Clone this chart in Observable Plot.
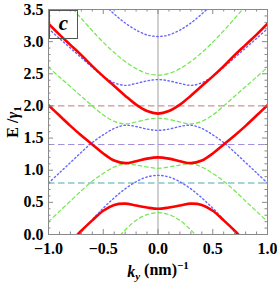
<!DOCTYPE html>
<html><head><meta charset="utf-8">
<script src="https://cdn.jsdelivr.net/npm/d3@7"></script>
<script src="https://cdn.jsdelivr.net/npm/@observablehq/plot@0.6"></script>
<style>body{margin:0;background:#fff}</style>
</head><body><div id="chart"></div>
<script>
const k = [-1,-0.9,-0.8,-0.7,-0.6,-0.5,-0.4,-0.3,-0.2,-0.1,0,0.1,0.2,0.3,0.4,0.5,0.6,0.7,0.8,0.9,1];
const red1 = [3.28,3.11,2.95,2.79,2.62,2.46,2.31,2.16,2.02,1.92,1.88,1.92,2.02,2.16,2.31,2.46,2.62,2.79,2.95,3.11,3.28];
const red2 = [2.01,1.85,1.69,1.54,1.40,1.26,1.15,1.11,1.14,1.18,1.20,1.18,1.14,1.11,1.15,1.26,1.40,1.54,1.69,1.85,2.01];
const red3 = [-0.48,-0.30,-0.12,0.06,0.22,0.37,0.46,0.48,0.45,0.42,0.40,0.42,0.45,0.48,0.46,0.37,0.22,0.06,-0.12,-0.30,-0.48];
const green1 = [3.98,3.77,3.56,3.36,3.17,2.99,2.83,2.69,2.58,2.505,2.48,2.505,2.58,2.69,2.83,2.99,3.17,3.36,3.56,3.77,3.98];
const green2 = [2.60,2.45,2.30,2.15,2.00,1.86,1.76,1.72,1.75,1.79,1.81,1.79,1.75,1.72,1.76,1.86,2.00,2.15,2.30,2.45,2.60];
const green3 = [0.20,0.36,0.52,0.68,0.83,0.95,1.05,1.10,1.08,1.05,1.03,1.05,1.08,1.10,1.05,0.95,0.83,0.68,0.52,0.36,0.20];
const green4 = [-1.32,-1.12,-0.92,-0.72,-0.52,-0.32,-0.12,0.07,0.22,0.31,0.34,0.31,0.22,0.07,-0.12,-0.32,-0.52,-0.72,-0.92,-1.12,-1.32];
const blue1 = [4.58,4.37,4.16,3.96,3.77,3.59,3.43,3.29,3.18,3.105,3.08,3.105,3.18,3.29,3.43,3.59,3.77,3.96,4.16,4.37,4.58];
const blue2 = [3.20,3.05,2.90,2.75,2.60,2.46,2.36,2.32,2.35,2.39,2.41,2.39,2.35,2.32,2.36,2.46,2.60,2.75,2.90,3.05,3.20];
const blue3 = [0.80,0.96,1.12,1.28,1.43,1.55,1.65,1.70,1.68,1.64,1.62,1.64,1.68,1.70,1.65,1.55,1.43,1.28,1.12,0.96,0.80];
const blue4 = [-0.56,-0.36,-0.16,0.04,0.23,0.41,0.57,0.71,0.82,0.895,0.92,0.895,0.82,0.71,0.57,0.41,0.23,0.04,-0.16,-0.36,-0.56];
const levels = [2.0, 1.4, 0.8];
const levelColors = ["#c99797", "#a391dc", "#a6d4d4"];
const levelWidths = [1.2, 1.2, 2];
const xTicks = [-1, -0.5, 0, 0.5, 1];
const xTickLabels = ["\u22121.0", "\u22120.5", "0.0", "0.5", "1.0"];
const yTicks = [0, 0.5, 1, 1.5, 2, 2.5, 3, 3.5];
const yTickLabels = ["0.0", "0.5", "1.0", "1.5", "2.0", "2.5", "3.0", "3.5"];
const panelLabel = "c";

const W = 277, H = 283, mL = 48, mR = 10, mT = 9, mB = 49;
const fw = W - mL - mR, fh = H - mT - mB;
const font = "'Liberation Serif','Times New Roman',serif";
const rows = vals => k.map((x, i) => ({k: x, E: vals[i]}));
const xMinor = d3.range(-10, 11).map(i => i / 10).filter(v => !xTicks.includes(v));
const yMinor = d3.range(0, 36).map(i => i / 10).filter(v => !yTicks.some(t => Math.abs(t - v) < 1e-9));
const gray = "#8a8a8a";
const line = (vals, o) => Plot.line(rows(vals), {x: "k", y: "E", curve: "catmull-rom", clip: true, ...o});
const greenStyle = {stroke: "#6fe84c", strokeWidth: 1.2, strokeDasharray: "3.5,3"};
const blueStyle = {stroke: "#6767ff", strokeWidth: 1.4, strokeDasharray: "1.4,2.6"};
const redStyle = {stroke: "#ff0000", strokeWidth: 2.6};
const txt = {fontWeight: "bold", fontFamily: font, fill: "#000", textAnchor: "middle", lineAnchor: "middle"};

const svg = Plot.plot({
  width: W, height: H, marginLeft: mL, marginRight: mR, marginTop: mT, marginBottom: mB,
  style: {background: "#fff", fontFamily: font},
  x: {domain: [-1, 1], axis: null},
  y: {domain: [0, 3.5], axis: null},
  marks: [
    Plot.ruleX([0], {stroke: "#cbcbcb", strokeWidth: 1.8}),
    Plot.ruleY(levels, {y: d => d, stroke: (d, i) => levelColors[i], strokeWidth: (d, i) => levelWidths[i], strokeDasharray: "6.5,3.5"}),
    line(green1, greenStyle), line(green2, greenStyle), line(green3, greenStyle), line(green4, greenStyle),
    line(blue1, blueStyle), line(blue2, blueStyle), line(blue3, blueStyle), line(blue4, blueStyle),
    line(red1, redStyle), line(red2, redStyle), line(red3, redStyle),
    // ticks inside the frame
    Plot.tickX(xTicks, {x: d => d, stroke: gray, insetTop: fh - 5}),
    Plot.tickX(xTicks, {x: d => d, stroke: gray, insetBottom: fh - 5}),
    Plot.tickX(xMinor, {x: d => d, stroke: gray, insetTop: fh - 2.5}),
    Plot.tickX(xMinor, {x: d => d, stroke: gray, insetBottom: fh - 2.5}),
    Plot.tickY(yTicks, {y: d => d, stroke: gray, insetRight: fw - 5}),
    Plot.tickY(yTicks, {y: d => d, stroke: gray, insetLeft: fw - 5}),
    Plot.tickY(yMinor, {y: d => d, stroke: gray, insetRight: fw - 2.5}),
    Plot.tickY(yMinor, {y: d => d, stroke: gray, insetLeft: fw - 2.5}),
    Plot.frame({stroke: gray}),
    // panel label box
    Plot.frame({stroke: "#555", fill: "none", insetLeft: 1, insetTop: 1, insetRight: fw - 29, insetBottom: fh - 29}),
    Plot.text([panelLabel], {...txt, text: d => d, frameAnchor: "top-left", dx: 15, dy: 14, fontSize: 21, fontStyle: "italic"}),
    // tick labels
    Plot.text(xTicks, {...txt, x: d => d, text: (d, i) => xTickLabels[i], frameAnchor: "bottom", dy: 14, fontSize: 16}),
    Plot.text(yTicks, {...txt, y: d => d, text: (d, i) => yTickLabels[i], frameAnchor: "left", dx: -5, textAnchor: "end", fontSize: 16}),
    // axis titles
    Plot.text(["YLABEL"], {...txt, text: d => d, frameAnchor: "left", dx: -36, rotate: -90, fontSize: 16}),
    Plot.text(["XLABEL"], {...txt, text: d => d, frameAnchor: "bottom", dy: 37, fontSize: 16})
  ]
});

d3.select(svg).selectAll("text").each(function () {
  const t = d3.select(this);
  const s = t.text();
  if (s === "YLABEL") {
    t.text("");
    t.append("tspan").text("E /");
    t.append("tspan").attr("font-style", "italic").text("\u03b3");
    t.append("tspan").attr("font-size", 11).attr("dy", "0.35em").text("1");
  } else if (s === "XLABEL") {
    t.text("");
    t.append("tspan").attr("font-style", "italic").text("k");
    t.append("tspan").attr("font-style", "italic").attr("font-size", 11).attr("dy", "0.35em").text("y");
    t.append("tspan").attr("dy", "-0.35em").text(" (nm)");
    t.append("tspan").attr("font-size", 11).attr("dy", "-0.5em").text("\u22121");
  }
});
document.getElementById("chart").appendChild(svg);
</script>
</body></html>
